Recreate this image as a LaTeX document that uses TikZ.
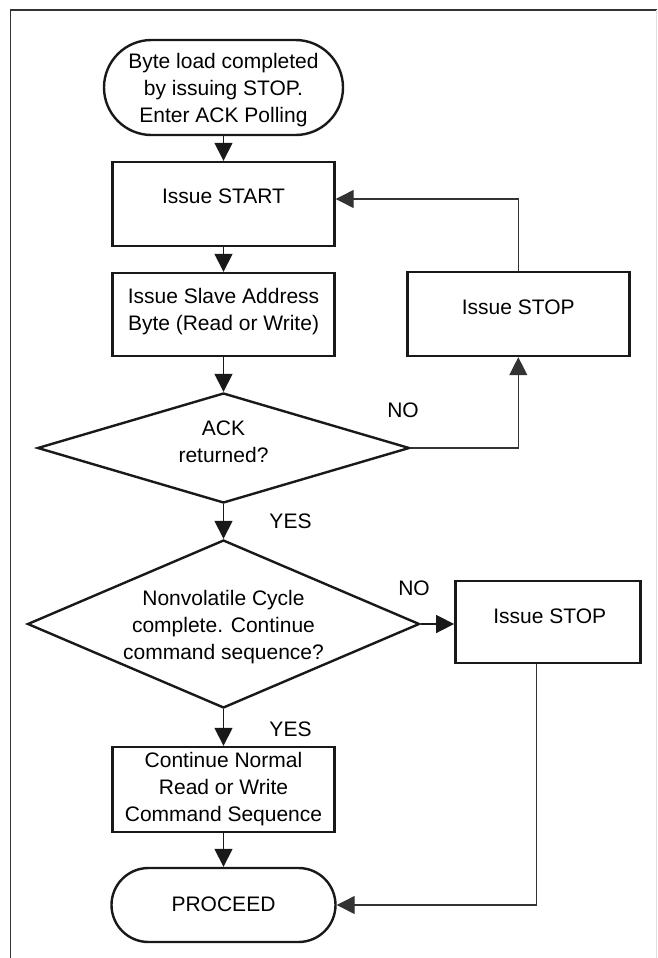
\documentclass[tikz,border=0pt]{standalone}
\usepackage{fontspec}
\setmainfont{Liberation Sans}
\usetikzlibrary{shapes.geometric,shapes.misc,arrows.meta}
\newcommand\lbl[2]{\smash{\makebox[0pt]{\raisebox{-#1}{\begin{tabular}[t]{@{}c@{}}#2\end{tabular}}}}}
\begin{document}
\begin{tikzpicture}[x=1pt,y=-1pt,
  box/.style={draw=black!90, line width=2.4pt, rectangle, inner sep=0pt, font=\fontsize{21}{27}\selectfont},
  term/.style={box, rounded rectangle},
  dec/.style={box, diamond},
  flow/.style={line width=1.6pt, draw=black!90, -{Triangle[length=18pt,width=18pt]}},
  back/.style={line width=1.2pt, draw=black!80, -{Triangle[length=18pt,width=18pt]}},
  tag/.style={anchor=base, inner sep=0pt, font=\fontsize{21}{27}\selectfont}]
\useasboundingbox (0,0) rectangle (657,958);
\draw[line width=1.6pt, black!80] (10.5,958) -- (10.5,10) -- (657,10);
\draw[line width=0.8pt, black!12] (656.5,10) -- (656.5,958);

\node[term, minimum width=239pt, minimum height=95pt] (start) at (223.5,87.5) {\lbl{-19.2pt}{Byte load completed\\by issuing STOP.\\Enter ACK Polling}};
\node[box, minimum width=222pt, minimum height=84pt] (startbox) at (223.5,204) {\lbl{-0.7pt}{Issue START}};
\node[box, minimum width=222pt, minimum height=83pt] (slave) at (223.5,314.5) {\lbl{-11.5pt}{Issue Slave Address\\Byte (Read or Write)}};
\node[box, minimum width=222pt, minimum height=84pt] (stop1) at (518.3,314) {\lbl{0.7pt}{Issue STOP}};
\node[dec, minimum width=372pt, minimum height=110pt] (ack) at (223.5,448) {\lbl{-13pt}{ACK\\returned?}};
\node[dec, minimum width=392pt, minimum height=168pt] (nv) at (223.5,624) {\lbl{-19pt}{Nonvolatile Cycle\\complete. Continue\\command sequence?}};
\node[box, minimum width=185pt, minimum height=82pt] (stop2) at (547.8,622) {\lbl{1.7pt}{\hspace{4pt}Issue STOP}};
\node[box, minimum width=222pt, minimum height=85pt] (cont) at (223.5,789.5) {\lbl{-22.5pt}{Continue Normal\\Read or Write\\Command Sequence}};
\node[term, minimum width=224pt, minimum height=74pt] (proceed) at (223.5,905) {\lbl{6.7pt}{PROCEED}};

\draw[flow] (start.south) -- (startbox.north);
\draw[flow] (startbox.south) -- (slave.north);
\draw[flow] (slave.south) -- (ack.north);
\draw[back] (ack.east) -| (stop1.south);
\draw[back] (stop1.north) |- ([yshift=5pt]startbox.east);
\draw[flow] (ack.south) -- (nv.north);
\draw[flow] (nv.east) -- (nv.east -| stop2.west);
\draw[flow] (nv.south) -- (cont.north);
\draw[flow] (cont.south) -- (proceed.north);
\draw[back] ([xshift=-11pt]stop2.south) |- (proceed.east);

\node[tag] (no1) at (403,417.3) {NO};
\node[tag] (no2) at (414,595.7) {NO};
\node[tag] (yes1) at (290.5,528) {YES};
\node[tag] (yes2) at (290.5,736.3) {YES};
\end{tikzpicture}
\end{document}
